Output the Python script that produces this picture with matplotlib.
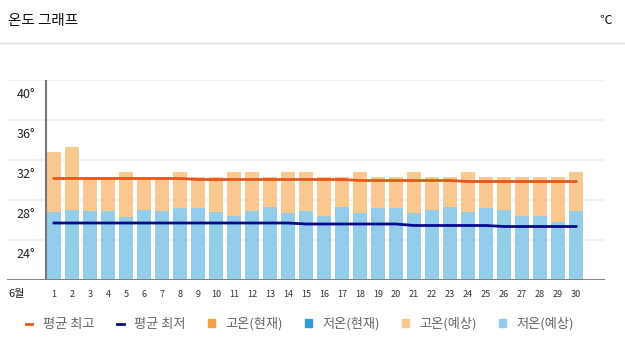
import matplotlib.pyplot as plt
from matplotlib.lines import Line2D
from matplotlib.patches import Patch

plt.rcParams['font.family'] = ['Noto Sans CJK KR', 'DejaVu Sans']

days = list(range(1, 31))
high = [34.3, 34.8, 31.8, 31.8, 32.3, 31.8, 31.8, 32.3, 31.8, 31.8,
        32.3, 32.3, 31.8, 32.3, 32.3, 31.8, 31.8, 32.3, 31.8, 31.8,
        32.3, 31.8, 31.8, 32.3, 31.8, 31.8, 31.8, 31.8, 31.8, 32.3]
low = [28.3, 28.5, 28.4, 28.4, 27.8, 28.5, 28.4, 28.7, 28.7, 28.3,
       27.9, 28.4, 28.8, 28.2, 28.4, 27.9, 28.8, 28.2, 28.7, 28.7,
       28.2, 28.5, 28.8, 28.3, 28.7, 28.5, 27.9, 27.9, 27.3, 28.4]
avg_high = [31.65] * 8 + [31.55] * 9 + [31.45] * 6 + [31.35] * 7
avg_low = [27.2] * 14 + [27.1] * 6 + [26.95] * 5 + [26.85] * 5
ytick_vals = [24, 28, 32, 36, 40]

c_high_line = '#e8561c'
c_low_line = '#0a0a8a'
c_high_now = '#f5a044'
c_low_now = '#2f9bd6'
c_high_fc = '#f9c88e'
c_low_fc = '#94cdea'

fig = plt.figure(figsize=(6.25, 3.51), dpi=100)
W, H = 625, 351

# header
fig.text(8 / W, 1 - 21 / H, '온도 그래프', fontsize=10.5, va='center', ha='left', color='#111')
fig.text(612 / W, 1 - 20 / H, '℃', fontsize=9, va='center', ha='right', color='#111')
fig.add_artist(Line2D([0, 1], [1 - 43 / H, 1 - 43 / H], color='#dddddd', lw=1))

ax = fig.add_axes([7 / W, 1 - 280 / H, 598 / W, 200 / H])
ymin, ymax = 21.5, 41.5
ax.set_ylim(ymin, ymax)
ax.set_xlim(-1.61, 31.61)

for g in [25.5, 29.5, 33.5, 37.5, 41.5]:
    ax.axhline(g, color='#eeeeee', lw=1.2, zorder=0)

ax.bar(days, [h - ymin for h in high], bottom=ymin, width=0.78, color=c_high_fc, zorder=2)
ax.bar(days, [l - ymin for l in low], bottom=ymin, width=0.78, color=c_low_fc, zorder=3)
ax.plot(days, avg_high, color=c_high_line, lw=2, zorder=4)
ax.plot(days, avg_low, color=c_low_line, lw=2, zorder=4)

ax.axvline(0.55, color='#777777', lw=1.5, zorder=5)
ax.axhline(ymin, color='#777777', lw=2, zorder=5)

for s in ax.spines.values():
    s.set_visible(False)
ax.set_yticks([])
ax.set_xticks(days)
ax.set_xticklabels([str(d) for d in days], fontsize=6.5, color='#333')
ax.tick_params(axis='x', length=0, pad=7)
for v in ytick_vals:
    ax.text(-0.05, v, f'{v}°', ha='right', va='center', fontsize=9, color='#222')
ax.text(-1.1, ymin - 1.35, '6월', ha='center', va='center', fontsize=8, color='#222',
        clip_on=False)

handles = [
    Line2D([], [], color=c_high_line, lw=2),
    Line2D([], [], color=c_low_line, lw=2),
    Patch(color=c_high_now),
    Patch(color=c_low_now),
    Patch(color=c_high_fc),
    Patch(color=c_low_fc),
]
labels = ['평균 최고', '평균 최저', '고온(현재)', '저온(현재)', '고온(예상)', '저온(예상)']
leg = fig.legend(handles, labels, loc='center left', bbox_to_anchor=(14 / W, 1 - 324 / H),
                 ncol=6, frameon=False, fontsize=9.5, handlelength=0.5, handleheight=0.5,
                 handletextpad=0.8, columnspacing=1.7, labelcolor='#666666')

fig.savefig('out.png', dpi=100)
